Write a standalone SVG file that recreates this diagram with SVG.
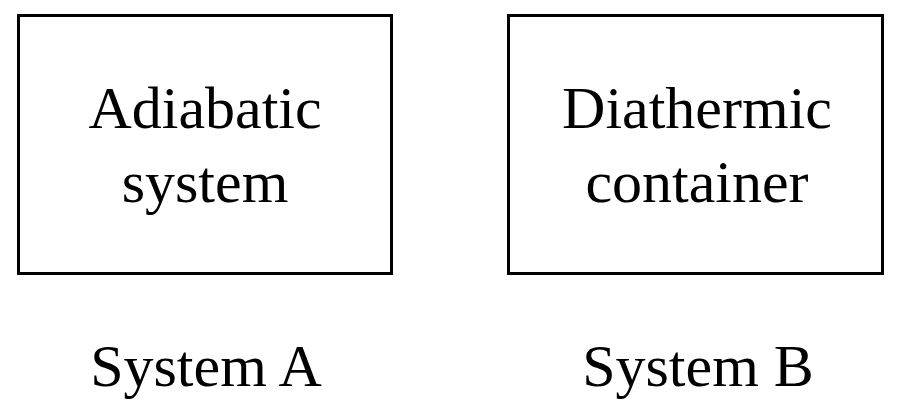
<svg xmlns="http://www.w3.org/2000/svg" width="900" height="414" viewBox="0 0 900 414">
<style>
.box{fill:#fff;stroke:#000;stroke-width:3}
.t{font-family:"Liberation Serif","Times New Roman",serif;font-size:60px;fill:#000;text-anchor:middle}
</style>
<rect width="900" height="414" fill="#fff"/>
<g id="nodeA">
<rect class="box" x="18.5" y="15.5" width="373" height="258"/>
<text class="t" x="205" y="128">Adiabatic</text>
<text class="t" x="205" y="202">system</text>
</g>
<g id="nodeB">
<rect class="box" x="508.5" y="15.5" width="374" height="258"/>
<text class="t" x="697" y="128">Diathermic</text>
<text class="t" x="697" y="202">container</text>
</g>
<g id="labelA"><text class="t" x="206" y="386">System A</text></g>
<g id="labelB"><text class="t" x="698" y="386">System B</text></g>
<g id="connectors"></g>
</svg>
